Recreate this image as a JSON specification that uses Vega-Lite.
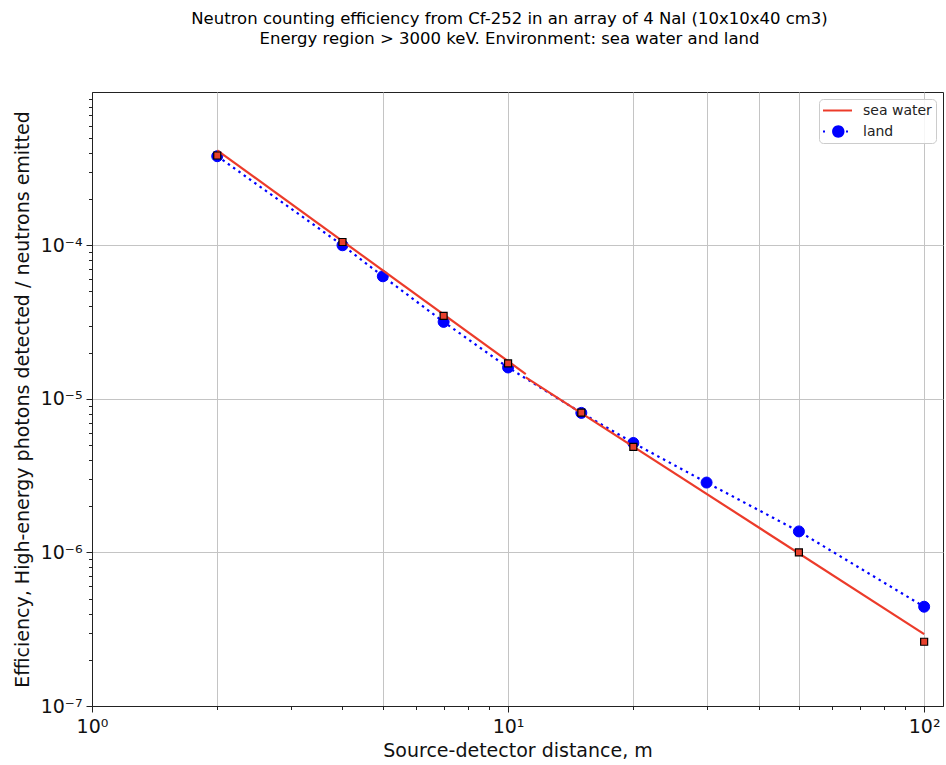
{
  "$schema": "https://vega.github.io/schema/vega-lite/v6.json",
  "width": 851,
  "height": 614,
  "autosize": {"type": "none"},
  "padding": {"left": 92, "top": 92, "right": 3, "bottom": 59},
  "background": "white",
  "title": {
    "text": ["Neutron counting efficiency from Cf-252 in an array of 4 NaI (10x10x40 cm3)", "Energy region > 3000 keV. Environment: sea water and land"],
    "font": "DejaVu Sans",
    "fontSize": 16.5,
    "fontWeight": "normal",
    "color": "#000000",
    "anchor": "middle",
    "frame": "group",
    "dx": -8,
    "offset": 42,
    "lineHeight": 20.5
  },
  "datasets": {
    "measured": [
      {"series": "sea water", "distance": 2, "efficiency": 3.84e-4},
      {"series": "sea water", "distance": 4, "efficiency": 1.05e-4},
      {"series": "sea water", "distance": 7, "efficiency": 3.47e-5},
      {"series": "sea water", "distance": 10, "efficiency": 1.70e-5},
      {"series": "sea water", "distance": 15, "efficiency": 8.13e-6},
      {"series": "sea water", "distance": 20, "efficiency": 4.86e-6},
      {"series": "sea water", "distance": 50, "efficiency": 1.0e-6},
      {"series": "sea water", "distance": 100, "efficiency": 2.62e-7},
      {"series": "land", "distance": 2, "efficiency": 3.80e-4},
      {"series": "land", "distance": 4, "efficiency": 1.0e-4},
      {"series": "land", "distance": 5, "efficiency": 6.28e-5},
      {"series": "land", "distance": 7, "efficiency": 3.17e-5},
      {"series": "land", "distance": 10, "efficiency": 1.60e-5},
      {"series": "land", "distance": 15, "efficiency": 8.1e-6},
      {"series": "land", "distance": 20, "efficiency": 5.16e-6},
      {"series": "land", "distance": 30, "efficiency": 2.85e-6},
      {"series": "land", "distance": 50, "efficiency": 1.37e-6},
      {"series": "land", "distance": 100, "efficiency": 4.43e-7}
    ],
    "fit": [
      {"segment": "a", "distance": 2, "efficiency": 4.15e-4},
      {"segment": "a", "distance": 11.03, "efficiency": 1.45e-5},
      {"segment": "b", "distance": 11.03, "efficiency": 1.38e-5},
      {"segment": "b", "distance": 100, "efficiency": 2.94e-7}
    ]
  },
  "encoding": {
    "x": {
      "field": "distance",
      "type": "quantitative",
      "title": "Source-detector distance, m",
      "scale": {"type": "log", "domain": [1, 111], "nice": false},
      "axis": {
        "values": [1, 2, 3, 4, 5, 6, 7, 8, 9, 10, 20, 30, 40, 50, 60, 70, 80, 90, 100],
        "labelExpr": "datum.value == 1 ? '10⁰' : datum.value == 10 ? '10¹' : datum.value == 100 ? '10²' : ''",
        "labelFlush": false,
        "labelOverlap": false,
        "grid": true,
        "gridOpacity": {"condition": {"test": "indexof([2,5,10,20,30,40,50,100], datum.value) >= 0", "value": 1}, "value": 0},
        "tickSize": {"condition": {"test": "datum.value == 1 || datum.value == 10 || datum.value == 100", "value": 6}, "value": 3.5},
        "labelPadding": 5,
        "titlePadding": 5
      }
    },
    "y": {
      "field": "efficiency",
      "type": "quantitative",
      "title": "Efficiency, High-energy photons detected / neutrons emitted",
      "scale": {"type": "log", "domain": [1e-7, 9.95e-4], "nice": false},
      "axis": {
        "values": [1e-7, 2e-7, 3e-7, 4e-7, 5e-7, 6e-7, 7e-7, 8e-7, 9e-7, 1e-6, 2e-6, 3e-6, 4e-6, 5e-6, 6e-6, 7e-6, 8e-6, 9e-6, 1e-5, 2e-5, 3e-5, 4e-5, 5e-5, 6e-5, 7e-5, 8e-5, 9e-5, 1e-4, 2e-4, 3e-4, 4e-4, 5e-4, 6e-4, 7e-4, 8e-4, 9e-4],
        "labelExpr": "datum.value == 1e-7 ? '10⁻⁷' : datum.value == 1e-6 ? '10⁻⁶' : datum.value == 1e-5 ? '10⁻⁵' : datum.value == 1e-4 ? '10⁻⁴' : ''",
        "labelOverlap": false,
        "labelFlush": false,
        "grid": true,
        "gridOpacity": {"condition": {"test": "indexof([1e-6,1e-5,1e-4], datum.value) >= 0", "value": 1}, "value": 0},
        "tickSize": {"condition": {"test": "indexof([1e-7,1e-6,1e-5,1e-4], datum.value) >= 0", "value": 6}, "value": 3.5},
        "labelPadding": 4,
        "titlePadding": 8
      }
    }
  },
  "layer": [
    {
      "data": {"name": "measured"},
      "transform": [{"filter": "datum.series == 'land'"}],
      "mark": {"type": "line", "color": "#0000ff", "strokeWidth": 2.2, "strokeDash": [2.5, 4], "strokeCap": "butt"}
    },
    {
      "data": {"name": "measured"},
      "transform": [{"filter": "datum.series == 'land'"}],
      "mark": {"type": "point", "shape": "circle", "filled": true, "size": 121, "color": "#0000ff", "stroke": "#0000ff", "strokeWidth": 1, "opacity": 1}
    },
    {
      "data": {"name": "fit"},
      "mark": {"type": "line", "color": "#ec3b2a", "strokeWidth": 2.2},
      "encoding": {"detail": {"field": "segment", "type": "nominal"}}
    },
    {
      "data": {"name": "measured"},
      "transform": [{"filter": "datum.series == 'sea water'"}],
      "mark": {"type": "point", "shape": "square", "filled": true, "size": 49, "fill": "#e8412c", "stroke": "#000000", "strokeWidth": 1.2, "opacity": 1}
    },
    {
      "data": {"name": "measured"},
      "transform": [{"filter": "datum.distance < 0"}],
      "mark": {"type": "point", "filled": true, "opacity": 1},
      "encoding": {
        "color": {
          "field": "series",
          "type": "nominal",
          "scale": {"domain": ["sea water", "land"], "range": ["#ec3b2a", "#0000ff"]},
          "legend": {"title": null}
        },
        "shape": {
          "field": "series",
          "type": "nominal",
          "scale": {"domain": ["sea water", "land"], "range": ["M-1,-0.133H2.867V0.133H-1Z", "M-1,-0.133H-0.733V0.133H-1Z M2.067,-0.133H2.333V0.133H2.067Z M0.213,0A0.827,0.827,0,1,0,1.867,0A0.827,0.827,0,1,0,0.213,0Z"]},
          "legend": {"title": null}
        }
      }
    }
  ],
  "config": {
    "font": "DejaVu Sans",
    "view": {"stroke": "#222222", "strokeWidth": 1},
    "axis": {
      "domainColor": "#222222",
      "domainWidth": 1,
      "tickColor": "#222222",
      "tickWidth": 1,
      "gridColor": "#c4c4c4",
      "gridWidth": 1,
      "labelFont": "DejaVu Sans",
      "labelFontSize": 19,
      "labelColor": "#111111",
      "titleFont": "DejaVu Sans",
      "titleFontSize": 19,
      "titleFontWeight": "normal",
      "titleColor": "#111111"
    },
    "legend": {
      "orient": "top-right",
      "offset": 7,
      "padding": 4,
      "fillColor": "rgba(255,255,255,0.85)",
      "strokeColor": "#cccccc",
      "cornerRadius": 4,
      "labelFont": "DejaVu Sans",
      "labelFontSize": 14,
      "labelColor": "#222222",
      "symbolSize": 225,
      "symbolStrokeWidth": 0,
      "symbolOpacity": 1,
      "labelOffset": 25,
      "rowPadding": 6
    }
  }
}
